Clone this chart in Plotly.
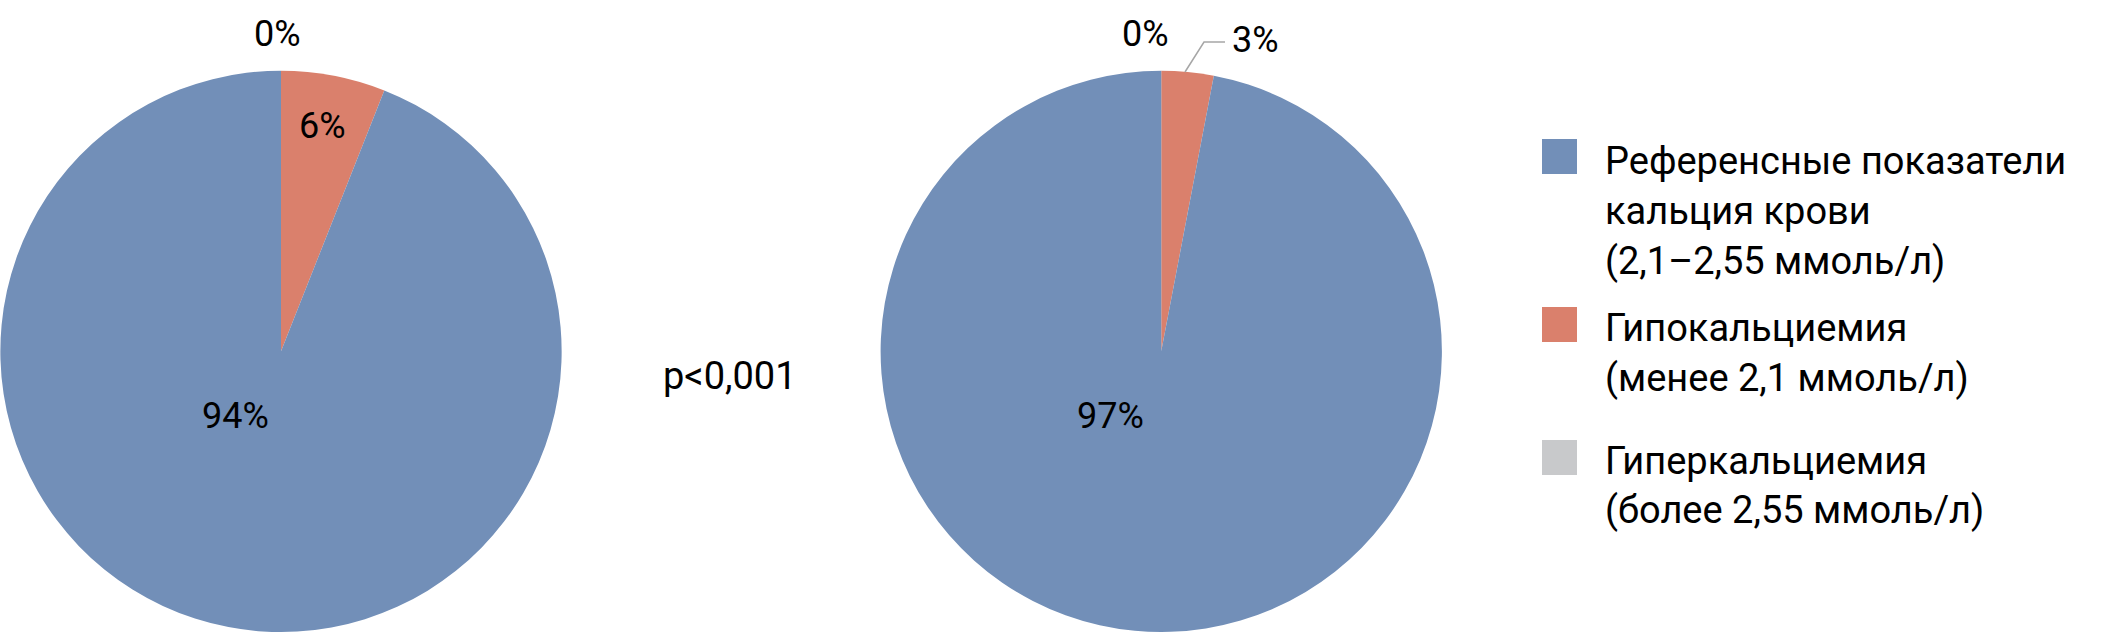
import plotly.graph_objects as go

W, H = 2126, 633

# ---- data ----
categories = [
    "Референсные показатели кальция крови (2,1–2,55 ммоль/л)",
    "Гипокальциемия (менее 2,1 ммоль/л)",
    "Гиперкальциемия (более 2,55 ммоль/л)",
]
legend_lines = [
    ["Референсные показатели", "кальция крови", "(2,1–2,55 ммоль/л)"],
    ["Гипокальциемия", "(менее 2,1 ммоль/л)"],
    ["Гиперкальциемия", "(более 2,55 ммоль/л)"],
]
values_group1 = [94, 6, 0]
values_group2 = [97, 3, 0]
p_value_text = "p<0,001"

# ---- styles ----
colors = ["#728FB8", "#DA806C", "#C8C9CB"]
FONT = "Roboto"
draw_order = [1, 0, 2]  # hypo slice starts at 12 o'clock, clockwise


def px(x):
    return x / W


def py(y):
    return 1 - y / H


fig = go.Figure()

pie_boxes = [(0, 562), (880.5, 1442)]
for vals, (x0, x1) in zip([values_group1, values_group2], pie_boxes):
    fig.add_trace(go.Pie(
        labels=[categories[i] for i in draw_order],
        values=[vals[i] for i in draw_order],
        sort=False,
        direction="clockwise",
        rotation=0,
        textinfo="none",
        hoverinfo="label+percent",
        marker=dict(colors=[colors[i] for i in draw_order], line=dict(width=0)),
        domain=dict(x=[px(x0), px(x1)], y=[py(632), py(70.7)]),
        showlegend=False,
    ))

annotations = []

# data labels (text from values)
label_pos_1 = [(235, 416), (322, 126), (277, 34)]
label_pos_2 = [(1110, 416), (1255, 40), (1145, 34)]
for vals, poss in [(values_group1, label_pos_1), (values_group2, label_pos_2)]:
    for v, (x, y) in zip(vals, poss):
        annotations.append(dict(
            x=px(x), y=py(y), xref="paper", yref="paper",
            text=f"{v}%", showarrow=False,
            xanchor="center", yanchor="middle",
            font=dict(family=FONT, size=36, color="#000000"),
        ))

# p value
annotations.append(dict(
    x=px(730), y=py(376), xref="paper", yref="paper",
    text=p_value_text, showarrow=False, xanchor="center", yanchor="middle",
    font=dict(family=FONT, size=38, color="#000000"),
))

# custom legend
shapes = []
square_tops = [139, 307, 440]
line_centers = [[161, 211, 261], [328, 378], [461, 510]]
for col, top, lines, centers in zip(colors, square_tops, legend_lines, line_centers):
    shapes.append(dict(
        type="rect", xref="paper", yref="paper",
        x0=px(1542), x1=px(1577), y0=py(top + 35), y1=py(top),
        fillcolor=col, line=dict(width=0),
    ))
    for t, c in zip(lines, centers):
        annotations.append(dict(
            x=px(1603), y=py(c), xref="paper", yref="paper",
            text=t, showarrow=False, xanchor="left", yanchor="middle",
            font=dict(family=FONT, size=38, color="#000000"),
        ))

# leader line for 3% label
shapes.append(dict(
    type="path", xref="paper", yref="paper",
    path=f"M {px(1185)} {py(72)} L {px(1204)} {py(42)} L {px(1225)} {py(42)}",
    line=dict(color="#A6A6A6", width=1.5),
))

fig.update_layout(
    width=W, height=H,
    margin=dict(l=0, r=0, t=0, b=0),
    paper_bgcolor="#FFFFFF",
    plot_bgcolor="#FFFFFF",
    annotations=annotations,
    shapes=shapes,
    showlegend=False,
)

fig.write_html(
    "out.html",
    config={"displayModeBar": False},
    post_script="document.body.style.margin='0';document.body.style.overflow='hidden';",
)
